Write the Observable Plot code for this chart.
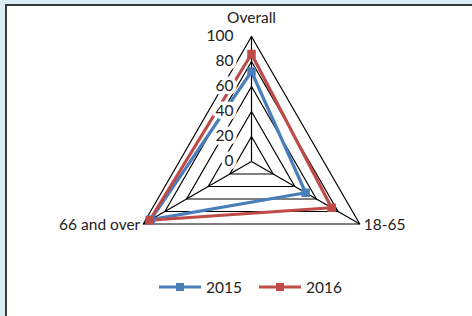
<!DOCTYPE html>
<html><head><meta charset="utf-8">
<script src="https://cdn.jsdelivr.net/npm/d3@7"></script>
<script src="https://cdn.jsdelivr.net/npm/@observablehq/plot@0.6"></script>
<style>
html,body{margin:0;padding:0}
body{width:472px;height:316px;background:#dbeef4;overflow:hidden;font-family:Lato,"Open Sans",sans-serif;position:relative}
#frame{position:absolute;left:5px;top:4px;width:467px;height:312px;background:#fff;border-left:2px solid #3a3a3a;border-top:2px solid #3a3a3a;box-sizing:border-box}
#chart{position:absolute;left:0;top:0}
#legend{position:absolute;left:152px;top:272px;display:flex;align-items:center;font-size:15.5px;color:#222}
#legend .item{display:flex;align-items:center;margin-right:17px}
#legend svg{margin-right:5px}
</style></head>
<body>
<div id="frame"><div id="chart"></div><div id="legend"></div></div>
<script>
const axes = ["Overall", "18-65", "66 and over"];
const values2015 = [72, 50, 93];
const values2016 = [86, 74, 94];
const series = ["2015", "2016"];
const seriesValues = [values2015, values2016];
const colors = ["#4a7ebb", "#be4b48"];
const ticks = [0, 20, 40, 60, 80, 100];
const maxValue = 100;

const ang = i => i * 2 * Math.PI / axes.length;
const px = (r, i) => r * Math.sin(ang(i));
const py = (r, i) => r * Math.cos(ang(i));

const grid = ticks.filter(t => t > 0).flatMap(t => axes.map((a, i) => ({t, x: px(t, i), y: py(t, i)})));
const spokes = axes.map((a, i) => ({a, x: px(maxValue, i), y: py(maxValue, i)}));
const pts = series.flatMap((s, k) => axes.map((a, i) => ({s, a, v: seriesValues[k][i], x: px(seriesValues[k][i], i), y: py(seriesValues[k][i], i)})));

const W = 465, H = 250, cx = 244, cy = 155, k = 1.25;
const FS = 15.5;
const labelOpts = [
  {textAnchor: "middle", dx: 0, dy: -18},
  {textAnchor: "start", dx: 4, dy: 1},
  {textAnchor: "end", dx: -3, dy: 1}
];

const chart = Plot.plot({
  width: W, height: H, margin: 0,
  x: {domain: [-cx / k, (W - cx) / k], axis: null},
  y: {domain: [-(H - cy) / k, cy / k], axis: null},
  style: {fontFamily: "Lato, 'Open Sans', sans-serif", background: "transparent"},
  marks: [
    Plot.line(grid, {x: "x", y: "y", z: "t", curve: "linear-closed", stroke: "#000", strokeWidth: 1.2}),
    Plot.link(spokes, {x1: 0, y1: 0, x2: "x", y2: "y", stroke: "#000", strokeWidth: 1.2}),
    Plot.line(pts, {x: "x", y: "y", z: "s", curve: "linear-closed", stroke: d => colors[series.indexOf(d.s)], strokeWidth: 3.2}),
    Plot.dot(pts, {x: "x", y: "y", symbol: "square", r: 4.8, fill: d => colors[series.indexOf(d.s)], stroke: "none"}),
    Plot.text(ticks, {x: 0, y: d => d, text: d => String(d), textAnchor: "end", dx: -18, fontSize: FS, fill: "#222", stroke: "white", strokeWidth: 7}),
    ...axes.map((a, i) => Plot.text([a], {x: () => px(maxValue, i), y: () => py(maxValue, i), text: d => d, fontSize: FS, fill: "#222", ...labelOpts[i]}))
  ]
});
document.getElementById("chart").appendChild(chart);

const legend = d3.select("#legend");
series.forEach((s, i) => {
  const item = legend.append("div").attr("class", "item");
  const sv = item.append("svg").attr("width", 42).attr("height", 10);
  sv.append("line").attr("x1", 0).attr("x2", 42).attr("y1", 5).attr("y2", 5).attr("stroke", colors[i]).attr("stroke-width", 3);
  sv.append("rect").attr("x", 17).attr("y", 1).attr("width", 8).attr("height", 8).attr("fill", colors[i]);
  item.append("span").text(s);
});
</script>
</body></html>
